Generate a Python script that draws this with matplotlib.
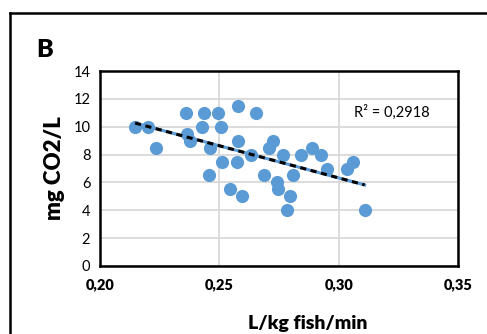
import numpy as np
import matplotlib.pyplot as plt
from matplotlib.lines import Line2D

# data
flow = [0.2147, 0.2202, 0.2234, 0.2359, 0.2366, 0.2377, 0.2428, 0.2435, 0.2462,
        0.2456, 0.2495, 0.2509, 0.2511, 0.2546, 0.2579, 0.2579, 0.2576, 0.2596,
        0.2631, 0.2654, 0.2687, 0.2710, 0.2726, 0.2742, 0.2745, 0.2766, 0.2783,
        0.2798, 0.2809, 0.2844, 0.2887, 0.2925, 0.2953, 0.3034, 0.3059, 0.3109]
co2 = [10.0, 10.0, 8.5, 11.0, 9.5, 9.0, 10.0, 11.0, 8.5,
       6.5, 11.0, 10.0, 7.5, 5.5, 11.5, 9.0, 7.5, 5.0,
       8.0, 11.0, 6.5, 8.5, 9.0, 6.0, 5.5, 8.0, 4.0,
       5.0, 6.5, 8.0, 8.5, 8.0, 7.0, 7.0, 7.5, 4.0]
xticks = [0.20, 0.25, 0.30, 0.35]
yticks = [0, 2, 4, 6, 8, 10, 12, 14]
r2_text = 'R² = 0,2918'

plt.rcParams['font.family'] = ['Lato', 'DejaVu Sans']

fig = plt.figure(figsize=(4.87, 3.34), dpi=100)
ax = fig.add_axes([0.2053, 0.2036, 0.7352, 0.5838])

blue = '#5B9BD5'
ax.scatter(flow, co2, s=90, color=blue, zorder=3, linewidths=0)

# linear trendline
x = np.array(flow)
k, b = np.polyfit(x, co2, 1)
xl = np.array([x.min(), x.max()])
ax.plot(xl, k * xl + b, color=blue, lw=2.2, zorder=4)
ax.plot(xl, k * xl + b, color='black', lw=2.2, ls=(0, (2, 1.5)), zorder=5)

ax.set_xlim(0.20, 0.35)
ax.set_ylim(0, 14)
ax.set_xticks(xticks)
ax.set_xticklabels([('%.2f' % t).replace('.', ',') for t in xticks],
                   fontweight='heavy', fontsize=10.5)
ax.set_yticks(yticks)
ax.set_yticklabels([str(t) for t in yticks], fontsize=10.5)
ax.tick_params(length=0, pad=7)
ax.tick_params(axis='x', pad=9)
ax.grid(True, color='#D9D9D9', lw=1.3)
ax.set_axisbelow(True)
for s in ax.spines.values():
    s.set_linewidth(1.8)
    s.set_color('black')

ax.text(0.3064, 11.0, r2_text, fontsize=10.5, va='center')

ax.set_ylabel('mg CO2/L', fontsize=16, fontweight='heavy', labelpad=6)
ax.set_xlabel('L/kg fish/min', fontsize=14, fontweight='heavy')
ax.xaxis.set_label_coords(0.58, -0.25)

fig.text(0.074, 0.829, 'B', fontsize=18, fontweight='heavy')

# outer frame (cut off at right and bottom)
fig.add_artist(Line2D([10 / 487, 10 / 487], [0, 1 - 13 / 334], color='black', lw=1.8))
fig.add_artist(Line2D([10 / 487, 1], [1 - 13 / 334, 1 - 13 / 334], color='black', lw=1.8))

fig.savefig('out.png', dpi=100)
